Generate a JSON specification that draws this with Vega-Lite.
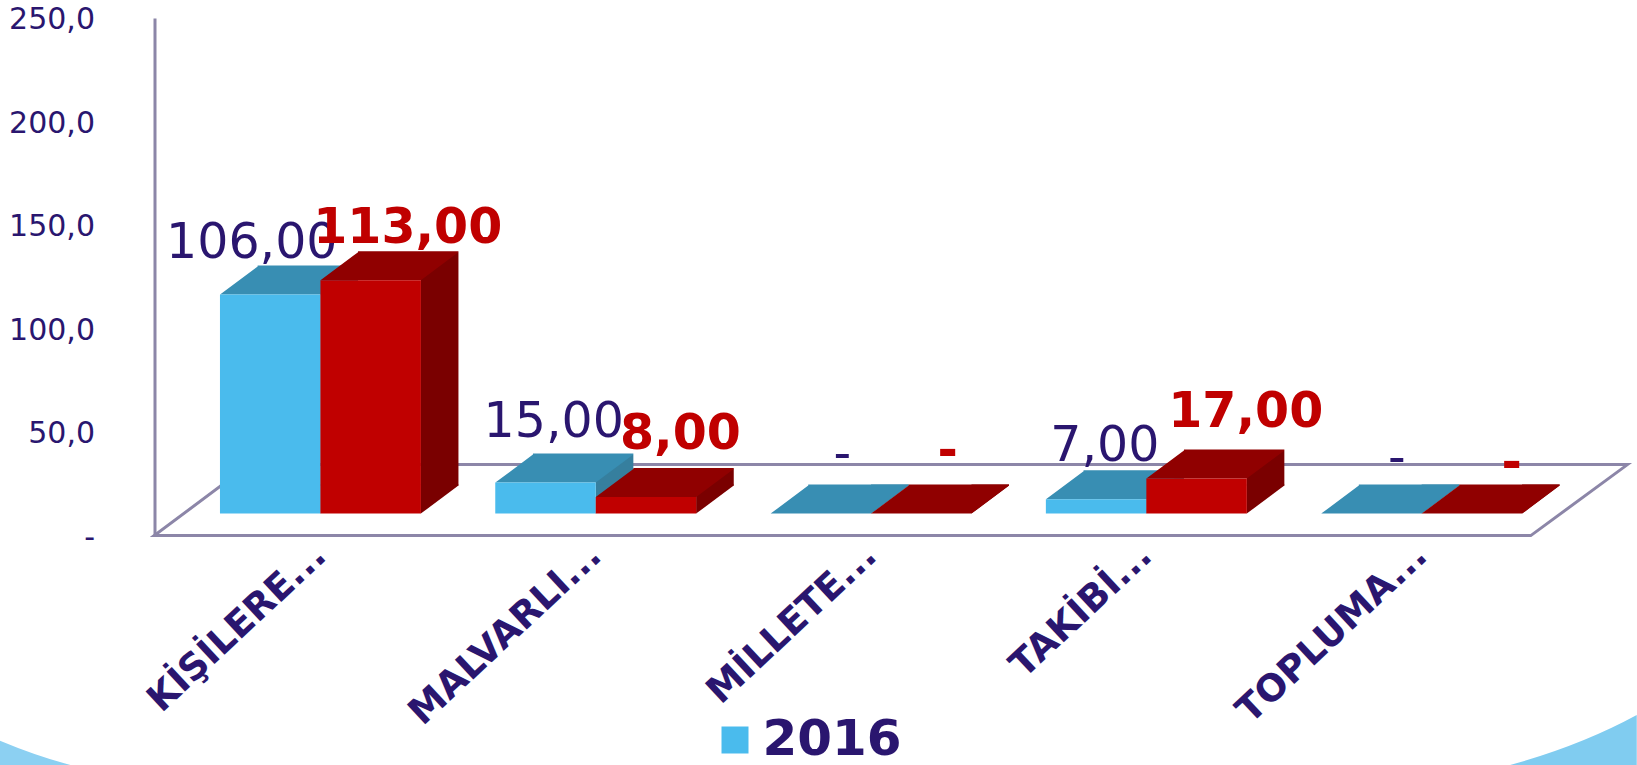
{"$schema":"https://vega.github.io/schema/vega-lite/v6.json","width":1482.5,"height":517.6,"autosize":{"type":"none"},"padding":{"left":154.5,"top":18,"right":0,"bottom":229.4},"background":"white","config":{"view":{"stroke":null},"font":"DejaVu Sans"},
"data":{"values":[{"kategori":"KİŞİLERE...","yil":"2016","deger":106},{"kategori":"KİŞİLERE...","yil":"2017","deger":113},{"kategori":"MALVARLI...","yil":"2016","deger":15},{"kategori":"MALVARLI...","yil":"2017","deger":8},{"kategori":"MİLLETE...","yil":"2016","deger":0},{"kategori":"MİLLETE...","yil":"2017","deger":0},{"kategori":"TAKİBİ...","yil":"2016","deger":7},{"kategori":"TAKİBİ...","yil":"2017","deger":17},{"kategori":"TOPLUMA...","yil":"2016","deger":0},{"kategori":"TOPLUMA...","yil":"2017","deger":0}]},
"encoding":{"x":{"field":"kategori","type":"nominal","sort":null,"title":null,"scale":{"range":[28.3,1404.8],"paddingInner":0.27,"paddingOuter":0.135},"axis":{"domain":false,"ticks":false,"labelAngle":-43,"labelAlign":"right","labelBaseline":"middle","labelFontSize":37,"labelFontWeight":"bold","labelColor":"#2A166F","labelLimit":0,"labelPadding":14,"labelFont":"DejaVu Sans"}}},
"layer":[
{"transform":[{"filter":"datum.kategori==='KİŞİLERE...' && datum.yil==='2016'"}],"encoding":{"y":{"datum":0,"type":"quantitative","title":null,"scale":{"domain":[0,250],"nice":false,"zero":false},"axis":{"values":[0,50,100,150,200,250],"grid":false,"ticks":false,"domain":true,"domainColor":"#8C86A8","domainWidth":3,"labelFontSize":30,"labelColor":"#2A166F","labelPadding":60,"labelOffset":1.5,"labelExpr":"datum.value==0?'-\u00a0':replace(format(datum.value,'.1f'),'.',',')"}}},
"layer":[
{"mark":{"type":"point","shape":"M-0.3324,0 L2.4206,0 L2.614,-0.142 L-0.1424,-0.142 Z","size":1000000,"filled":false,"stroke":"#8C86A8","strokeWidth":3,"opacity":1}},
{"mark":{"type":"point","shape":"M-0.6414,0.41 Q-0.57,0.44 -0.5,0.4588 L-0.6414,0.4588 Z","size":1000000,"filled":true,"fill":"#8CD0F2","strokeWidth":0,"opacity":1}},
{"mark":{"type":"point","shape":"M2.3794,0.4588 Q2.52,0.42 2.6326,0.3588 L2.6326,0.4588 Z","size":1000000,"filled":true,"fill":"#80CCF0","strokeWidth":0,"opacity":1}}
]},
{"encoding":{"y":{"field":"deger","type":"quantitative","title":null,"scale":{"domain":[-10.65,239.9],"nice":false,"zero":false},"axis":null}},
"layer":[
{"transform":[{"filter":"datum.yil==='2016'"}],"mark":{"type":"bar","width":37.6,"xOffset":18.8,"yOffset":-28,"y2Offset":-28,"color":"#367F9E"}},
{"transform":[{"filter":"datum.yil==='2016'"}],"mark":{"type":"point","shape":"M0,0 L0,-0.29 L0.376,-0.29 L0.376,-0.28 Z","size":40000,"filled":true,"fill":"#367F9E","strokeWidth":0,"opacity":1},"encoding":{"y":{"datum":0,"type":"quantitative","scale":{"domain":[-10.65,239.9],"nice":false,"zero":false},"axis":null}}},
{"transform":[{"filter":"datum.yil==='2016'"}],"mark":{"type":"point","shape":"M-1.004,0 L0,0 L0.376,-0.28 L0.376,-0.29 L-0.628,-0.29 L-0.628,-0.28 Z","size":40000,"filled":true,"fill":"#388EB3","strokeWidth":0,"opacity":1}},
{"transform":[{"filter":"datum.yil==='2017'"}],"mark":{"type":"bar","width":37.6,"xOffset":119.2,"yOffset":-28,"y2Offset":-28,"color":"#7A0000"}},
{"transform":[{"filter":"datum.yil==='2017'"}],"mark":{"type":"point","shape":"M1.004,0 L1.004,-0.29 L1.38,-0.29 L1.38,-0.28 Z","size":40000,"filled":true,"fill":"#7A0000","strokeWidth":0,"opacity":1},"encoding":{"y":{"datum":0,"type":"quantitative","scale":{"domain":[-10.65,239.9],"nice":false,"zero":false},"axis":null}}},
{"transform":[{"filter":"datum.yil==='2017'"}],"mark":{"type":"point","shape":"M0,0 L1.004,0 L1.38,-0.28 L1.38,-0.29 L0.376,-0.29 L0.376,-0.28 Z","size":40000,"filled":true,"fill":"#900000","strokeWidth":0,"opacity":1}},
{"mark":{"type":"bar"},"encoding":{"xOffset":{"field":"yil","type":"nominal","sort":null},"color":{"field":"yil","type":"nominal","scale":{"domain":["2016","2017"],"range":["#4ABBED","#C00000"]},"legend":{"values":["2016"],"orient":"none","legendX":555.5,"legendY":697,"title":null,"padding":0,"symbolType":"square","symbolSize":729,"symbolOpacity":1,"symbolStrokeWidth":0,"labelFontSize":50,"labelFontWeight":"bold","labelColor":"#2A166F","labelFont":"DejaVu Sans","labelOffset":2.5}}}},
{"transform":[{"filter":"datum.kategori==='KİŞİLERE...' && datum.yil==='2016'"}],"mark":{"type":"text","fontSize":49,"color":"#2A166F","dx":-68.7,"dy":-37,"baseline":"alphabetic"},"encoding":{"text":{"value":"106,00"}}},
{"transform":[{"filter":"datum.kategori==='KİŞİLERE...' && datum.yil==='2017'"}],"mark":{"type":"text","fontSize":49,"fontWeight":"bold","color":"#C00000","dx":87.3,"dy":-37,"baseline":"alphabetic"},"encoding":{"text":{"value":"113,00"}}},
{"transform":[{"filter":"datum.kategori==='MALVARLI...' && datum.yil==='2016'"}],"mark":{"type":"text","fontSize":49,"color":"#2A166F","dx":-42,"dy":-46,"baseline":"alphabetic"},"encoding":{"text":{"value":"15,00"}}},
{"transform":[{"filter":"datum.kategori==='MALVARLI...' && datum.yil==='2017'"}],"mark":{"type":"text","fontSize":49,"fontWeight":"bold","color":"#C00000","dx":84.7,"dy":-48.5,"baseline":"alphabetic"},"encoding":{"text":{"value":"8,00"}}},
{"transform":[{"filter":"datum.kategori==='MİLLETE...' && datum.yil==='2016'"}],"mark":{"type":"text","fontSize":49,"color":"#2A166F","dx":-28.8,"dy":-43.6,"baseline":"alphabetic"},"encoding":{"text":{"value":"-"}}},
{"transform":[{"filter":"datum.kategori==='MİLLETE...' && datum.yil==='2017'"}],"mark":{"type":"text","fontSize":49,"fontWeight":"bold","color":"#C00000","dx":76.7,"dy":-46.6,"baseline":"alphabetic"},"encoding":{"text":{"value":"-"}}},
{"transform":[{"filter":"datum.kategori==='TAKİBİ...' && datum.yil==='2016'"}],"mark":{"type":"text","fontSize":49,"color":"#2A166F","dx":-41.6,"dy":-38.6,"baseline":"alphabetic"},"encoding":{"text":{"value":"7,00"}}},
{"transform":[{"filter":"datum.kategori==='TAKİBİ...' && datum.yil==='2017'"}],"mark":{"type":"text","fontSize":49,"fontWeight":"bold","color":"#C00000","dx":99.4,"dy":-51.3,"baseline":"alphabetic"},"encoding":{"text":{"value":"17,00"}}},
{"transform":[{"filter":"datum.kategori==='TOPLUMA...' && datum.yil==='2016'"}],"mark":{"type":"text","fontSize":49,"color":"#2A166F","dx":-24.9,"dy":-39.6,"baseline":"alphabetic"},"encoding":{"text":{"value":"-"}}},
{"transform":[{"filter":"datum.kategori==='TOPLUMA...' && datum.yil==='2017'"}],"mark":{"type":"text","fontSize":49,"fontWeight":"bold","color":"#C00000","dx":90.1,"dy":-34.6,"baseline":"alphabetic"},"encoding":{"text":{"value":"-"}}}
]}
],
"resolve":{"scale":{"y":"independent"},"axis":{"y":"independent"}}}
